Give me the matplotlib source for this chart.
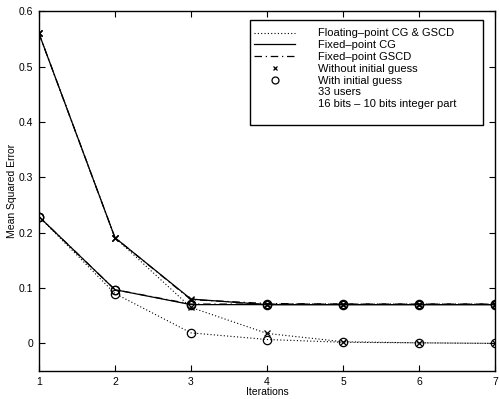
import matplotlib
matplotlib.use("Agg")
import matplotlib.pyplot as plt
from matplotlib.lines import Line2D
from matplotlib.patches import Rectangle

plt.rcParams['font.family'] = ['Liberation Sans', 'DejaVu Sans']

iterations = [1, 2, 3, 4, 5, 6, 7]
float_no_guess = [0.56, 0.191, 0.065, 0.018, 0.003, 0.001, 0.0]
float_guess = [0.229, 0.090, 0.019, 0.007, 0.002, 0.001, 0.0]
cg_no_guess = [0.56, 0.191, 0.080, 0.070, 0.070, 0.070, 0.070]
cg_guess = [0.229, 0.097, 0.070, 0.070, 0.070, 0.070, 0.070]
gscd_no_guess = [0.56, 0.191, 0.079, 0.072, 0.071, 0.071, 0.071]
gscd_guess = [0.229, 0.097, 0.071, 0.071, 0.071, 0.071, 0.071]

yticks = [0, 0.1, 0.2, 0.3, 0.4, 0.5, 0.6]
ytick_labels = ['0', '0.1', '0.2', '0.3', '0.4', '0.5', '0.6']
legend_labels = ['Floating\u2013point CG & GSCD', 'Fixed\u2013point CG', 'Fixed\u2013point GSCD',
                 'Without initial guess', 'With initial guess', '33 users',
                 '16 bits \u2013 10 bits integer part']

fig = plt.figure(figsize=(4.99, 3.99), dpi=100)
ax = fig.add_axes([0.078, 0.070, 0.914, 0.902])

dotted = (0, (1, 2))
dashdot = (0, (6, 3, 1, 3))
lw = 0.9
ms_x = 4
ms_o = 6

ax.plot(iterations, float_no_guess, color='black', linestyle=dotted, lw=0.8,
        marker='x', ms=ms_x, mew=0.9)
ax.plot(iterations, float_guess, color='black', linestyle=dotted, lw=0.8,
        marker='o', ms=ms_o, mfc='none', mew=0.9)
ax.plot(iterations, gscd_no_guess, color='black', linestyle=dashdot, lw=lw,
        marker='x', ms=ms_x, mew=0.9)
ax.plot(iterations, gscd_guess, color='black', linestyle=dashdot, lw=lw,
        marker='o', ms=ms_o, mfc='none', mew=0.9)
ax.plot(iterations, cg_no_guess, color='black', linestyle='-', lw=lw,
        marker='x', ms=ms_x, mew=0.9)
ax.plot(iterations, cg_guess, color='black', linestyle='-', lw=lw,
        marker='o', ms=ms_o, mfc='none', mew=0.9)

ax.set_xlim(1, 7)
ax.set_ylim(-0.05, 0.6)
ax.set_xticks(iterations)
ax.set_yticks(yticks)
ax.set_yticklabels(ytick_labels)
ax.tick_params(direction='in', top=True, right=True, length=4, width=0.8,
               labelsize=7.5, pad=4)
for s in ax.spines.values():
    s.set_linewidth(1.0)
ax.set_xlabel('Iterations', fontsize=7.5, labelpad=0)
ax.set_ylabel('Mean Squared Error', fontsize=7.5, labelpad=1)

handles = [
    Line2D([], [], color='black', linestyle=dotted, lw=0.8),
    Line2D([], [], color='black', linestyle='-', lw=lw),
    Line2D([], [], color='black', linestyle=dashdot, lw=lw),
    Line2D([], [], color='black', linestyle='none', marker='x', ms=3.5, mew=0.9),
    Line2D([], [], color='black', linestyle='none', marker='o', ms=5, mfc='none', mew=0.9),
    Line2D([], [], linestyle='none'),
    Line2D([], [], linestyle='none'),
]
# legend frame (MATLAB style box with extra padding)
ax.add_patch(Rectangle((0.4627, 0.683), 0.511, 0.292, transform=ax.transAxes,
                       facecolor='white', edgecolor='black', lw=1.0, zorder=4))
leg = ax.legend(handles, legend_labels, loc='upper left', fontsize=8,
                bbox_to_anchor=(0.4715, 0.952), frameon=False,
                handlelength=3.7, handletextpad=2.1,
                labelspacing=0.16, borderpad=0, borderaxespad=0)
leg.set_zorder(5)

fig.savefig('out.png', dpi=100)
